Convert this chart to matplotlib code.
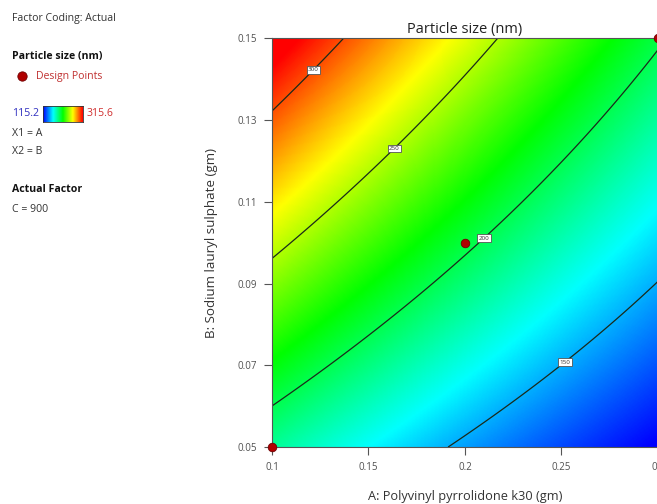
import numpy as np
import matplotlib.pyplot as plt
from matplotlib.colors import LinearSegmentedColormap

# quadratic response surface for particle size (coded factors a, b in -1..1)
# terms: const, a, b, ab, a^2, b^2
coef = [203.5, -48.5, 56.7, -12.6, 3.35, 0.03]
levels = [150, 200, 250, 300]
z_min, z_max = 115.2, 315.6

# design points (actual units)
design_A = [0.1, 0.2, 0.3]
design_B = [0.05, 0.1, 0.15]

A_ticks = [0.1, 0.15, 0.2, 0.25, 0.3]
A_ticklabels = ['0.1', '0.15', '0.2', '0.25', '0.3']
B_ticks = [0.05, 0.07, 0.09, 0.11, 0.13, 0.15]

# where the contour labels sit
label_pos = [(0.2508, 0.0713), (0.2098, 0.1011), (0.1627, 0.1234), (0.1187, 0.1436)]

plt.rcParams['font.family'] = ['Open Sans', 'DejaVu Sans']
cmap = LinearSegmentedColormap.from_list(
    'de', ['#0000ff', '#00ffff', '#00ff00', '#ffff00', '#ff0000'])

fig = plt.figure(figsize=(6.57, 5.04), dpi=100)
ax = fig.add_axes([0.414, 0.113, 0.5875, 0.811])

A = np.linspace(0.1, 0.3, 300)
B = np.linspace(0.05, 0.15, 300)
AA, BB = np.meshgrid(A, B)
a = (AA - 0.2) / 0.1
b = (BB - 0.1) / 0.05
Z = (coef[0] + coef[1] * a + coef[2] * b + coef[3] * a * b
     + coef[4] * a ** 2 + coef[5] * b ** 2)

ax.imshow(Z, origin='lower', extent=[0.1, 0.3, 0.05, 0.15], aspect='auto',
          cmap=cmap, vmin=z_min, vmax=z_max, interpolation='bilinear')
cs = ax.contour(AA, BB, Z, levels=levels, colors='#1a2a1a', linewidths=0.9)
labels = ax.clabel(cs, fmt='%d', fontsize=4.5, inline=False, manual=label_pos)
for t in labels:
    t.set_rotation(0)
    t.set_color('#333333')
    t.set_bbox(dict(facecolor='white', edgecolor='#555555', linewidth=0.6, pad=1.0))

ax.scatter(design_A, design_B, s=38, color='#b00000', edgecolors='#700000',
           linewidths=0.6, zorder=5, clip_on=False)

ax.set_xlim(0.1, 0.3)
ax.set_ylim(0.05, 0.15)
ax.set_xticks(A_ticks)
ax.set_xticklabels(A_ticklabels)
ax.set_yticks(B_ticks)
ax.set_yticklabels(['%.2f' % v for v in B_ticks])
ax.tick_params(direction='out', length=6, width=0.8, colors='#555555',
               labelsize=7, labelcolor='#505050', pad=5)
for s in ax.spines.values():
    s.set_color('#555555')
    s.set_linewidth(0.8)

ax.set_title('Particle size (nm)', fontsize=10.5, color='#222222', pad=4)
ax.set_xlabel('A: Polyvinyl pyrrolidone k30 (gm)', fontsize=9.2, color='#333333', labelpad=12)
ax.set_ylabel('B: Sodium lauryl sulphate (gm)', fontsize=9.6, color='#333333', labelpad=14)

# legend block on the left
def ftext(x, y, s, **kw):
    fig.text(x / 657, 1 - y / 504, s, va='center', ha='left', **kw)

ftext(12, 18, 'Factor Coding: Actual', fontsize=7.6, color='#333333')
ftext(12, 57, 'Particle size (nm)', fontsize=7.6, color='#111111', fontweight='bold')
ftext(36, 76, 'Design Points', fontsize=7.6, color='#c03030')
ftext(12, 114, '115.2', fontsize=7.6, color='#3030c0')
ftext(87, 114, '315.6', fontsize=7.6, color='#d03030')
ftext(12, 134, 'X1 = A', fontsize=7.6, color='#333333')
ftext(12, 152, 'X2 = B', fontsize=7.6, color='#333333')
ftext(12, 190, 'Actual Factor', fontsize=7.6, color='#111111', fontweight='bold')
ftext(12, 209, 'C = 900', fontsize=7.6, color='#333333')

# marker next to "Design Points"
mk = fig.add_axes([14 / 657, 1 - 84 / 504, 16 / 657, 16 / 504])
mk.scatter([0], [0], s=45, color='#b00000', edgecolors='#700000', linewidths=0.6)
mk.set_xlim(-1, 1)
mk.set_ylim(-1, 1)
mk.axis('off')

# small colour bar
cb = fig.add_axes([43 / 657, 1 - 122 / 504, 40 / 657, 16 / 504])
cb.imshow(np.linspace(0, 1, 100)[None, :], aspect='auto', cmap=cmap)
cb.set_xticks([])
cb.set_yticks([])
for s in cb.spines.values():
    s.set_color('#333333')
    s.set_linewidth(0.6)

fig.savefig('out.png', dpi=100)
